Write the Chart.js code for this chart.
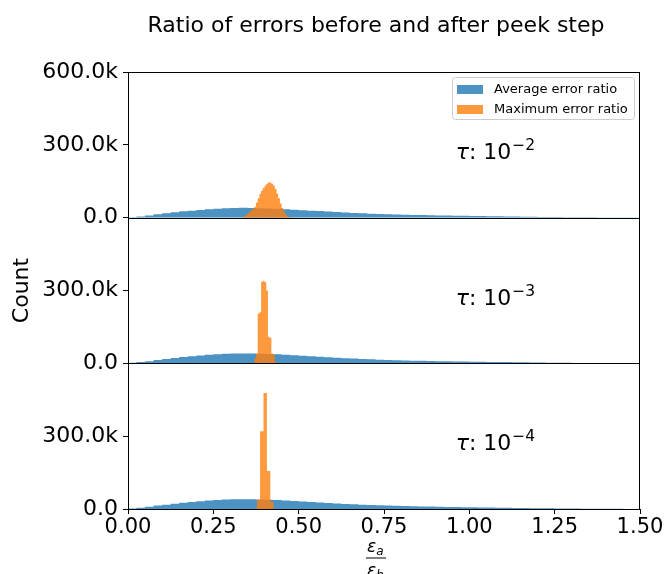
<!DOCTYPE html>
<html>
<head>
<meta charset="utf-8">
<script src="https://cdn.jsdelivr.net/npm/chart.js@4.4.1/dist/chart.umd.min.js"></script>
<style>
  html, body { margin: 0; padding: 0; background: #fff; }
  canvas { display: block; }
</style>
</head>
<body>
<canvas id="myChart" width="667" height="574"></canvas>
<script>
  // average error ratio histogram (same shape in all three panels), bin edges + counts
  const avgEdges = [
    0.000, 0.025, 0.050, 0.075, 0.100, 0.125, 0.150, 0.175, 0.200, 0.225,
    0.250, 0.275, 0.300, 0.325, 0.350, 0.375, 0.400, 0.425, 0.450, 0.475,
    0.500, 0.525, 0.550, 0.575, 0.600, 0.625, 0.650, 0.675, 0.700, 0.725,
    0.750, 0.775, 0.800, 0.825, 0.850, 0.875, 0.900, 0.925, 0.950, 0.975,
    1.000, 1.025, 1.050, 1.075, 1.100, 1.125, 1.150, 1.175, 1.200, 1.225,
    1.250, 1.275, 1.300, 1.325, 1.350, 1.375, 1.400, 1.425, 1.450, 1.475, 1.500
  ];
  const avgCounts = [
    2000, 5000, 9000, 14000, 18000, 22000, 26000, 29000, 32000, 35000,
    37000, 39000, 40000, 40500, 40000, 39000, 38000, 37000, 35000, 33000,
    31000, 29000, 27000, 25000, 23000, 21000, 19500, 18000, 16500, 15000,
    14000, 13000, 12000, 11000, 10500, 10000, 9000, 8500, 8000, 7500,
    7000, 6500, 6000, 5500, 5000, 4500, 4000, 3500, 3000, 2700,
    2400, 2100, 1800, 1500, 1300, 1100, 900, 700, 500, 400
  ];

  // maximum error ratio histograms, one per tau
  const maxEdgesTau2 = [
    0.335, 0.340, 0.345, 0.350, 0.355, 0.360, 0.365, 0.370, 0.375, 0.380,
    0.385, 0.390, 0.395, 0.400, 0.405, 0.410, 0.415, 0.420, 0.425, 0.430,
    0.435, 0.440, 0.445, 0.450, 0.455, 0.460, 0.465, 0.470, 0.475, 0.480
  ];
  const maxCountsTau2 = [
    3000, 7000, 12000, 18000, 25000, 32000, 38000, 45000, 62000, 80000,
    98000, 112000, 122000, 133000, 140000, 145000, 145000, 140000, 132000, 118000,
    100000, 80000, 58000, 40000, 25000, 14000, 7000, 3000, 1000
  ];
  const maxEdgesTau3 = [0.370, 0.375, 0.380, 0.385, 0.390, 0.395, 0.400, 0.405, 0.410, 0.415, 0.420, 0.425, 0.430, 0.435];
  const maxCountsTau3 = [20000, 40000, 205000, 210000, 335000, 340000, 335000, 300000, 110000, 105000, 40000, 35000, 8000];
  const maxEdgesTau4 = [0.377, 0.387, 0.397, 0.407, 0.417, 0.427];
  const maxCountsTau4 = [38000, 320000, 478000, 157000, 30000];

  const xTicks = [0, 0.25, 0.5, 0.75, 1.0, 1.25, 1.5];
  const yTicks = [0, 300000, 600000];
  const tauExponents = ["\u22122", "\u22123", "\u22124"];
  const seriesLabels = ["Average error ratio", "Maximum error ratio"];

  const BLUE = "rgba(31, 119, 180, 0.8)";
  const ORANGE = "rgba(255, 127, 14, 0.8)";
  const FONT = '"DejaVu Sans", sans-serif';

  // top to bottom
  const panelAxes = ["yTop", "yMid", "yBot"];

  function histPoints(edges, counts) {
    return edges.map((e, i) => ({ x: e, y: i < counts.length ? counts[i] : 0 }));
  }

  function hist(edges, counts, color, axis, order) {
    return {
      data: histPoints(edges, counts),
      yAxisID: axis,
      stepped: true,
      fill: "origin",
      backgroundColor: color,
      borderColor: "transparent",
      borderWidth: 0,
      pointRadius: 0,
      order: order,
    };
  }

  function yScale(showTop) {
    return {
      type: "linear",
      position: "left",
      stack: "panels",
      stackWeight: 1,
      min: 0,
      max: 600000,
      afterBuildTicks: (s) => { s.ticks = yTicks.map((v) => ({ value: v })); },
      afterFit: (s) => { s.width = 128; },
      border: { display: false },
      grid: { drawOnChartArea: false, drawTicks: true, tickLength: 5, tickColor: "#000" },
      ticks: {
        padding: 5,
        color: "#000",
        font: { family: FONT, size: 22 },
        callback: (v) => {
          if (v === 0) return "0.0";
          if (v === 600000 && !showTop) return "";
          return (v / 1000).toFixed(1) + "k";
        },
      },
    };
  }

  const overlay = {
    id: "overlay",
    afterDraw(chart) {
      const ctx = chart.ctx;
      const area = chart.chartArea;
      const xs = chart.scales.x;
      const cx = 376;
      ctx.save();

      // panel frames
      ctx.strokeStyle = "#000";
      ctx.lineWidth = 1;
      panelAxes.forEach((id) => {
        const s = chart.scales[id];
        const t = Math.round(s.top), b = Math.round(s.bottom);
        ctx.strokeRect(area.left + 0.5, t + 0.5, Math.round(area.right - area.left) - 1, b - t);
      });

      // tau labels
      ctx.fillStyle = "#000";
      ctx.textAlign = "left";
      ctx.textBaseline = "alphabetic";
      panelAxes.forEach((id, i) => {
        const s = chart.scales[id];
        let px = xs.getPixelForValue(0.96);
        const py = s.getPixelForValue(242000);
        ctx.font = "italic 22px " + FONT;
        ctx.fillText("\u03c4", px, py);
        px += ctx.measureText("\u03c4").width;
        ctx.font = "22px " + FONT;
        ctx.fillText(": 10", px, py);
        px += ctx.measureText(": 10").width;
        ctx.font = "15.5px " + FONT;
        ctx.fillText(tauExponents[i], px + 1, py - 9);
      });

      // legend
      const lx = area.right - 6 - 182, ly = area.top + 5;
      ctx.fillStyle = "rgba(255,255,255,0.8)";
      ctx.strokeStyle = "#cccccc";
      ctx.beginPath();
      ctx.roundRect(lx + 0.5, ly + 0.5, 182, 42, 3);
      ctx.fill();
      ctx.stroke();
      [BLUE, ORANGE].forEach((c, i) => {
        ctx.fillStyle = c;
        ctx.fillRect(lx + 5, ly + 8 + i * 20, 26, 9);
        ctx.fillStyle = "#000";
        ctx.font = "13px " + FONT;
        ctx.textBaseline = "middle";
        ctx.fillText(seriesLabels[i], lx + 42, ly + 13 + i * 20);
      });

      // title
      ctx.textAlign = "center";
      ctx.textBaseline = "alphabetic";
      ctx.font = "22px " + FONT;
      ctx.fillText("Ratio of errors before and after peek step", cx, 32);

      // y label
      ctx.save();
      ctx.translate(22, (area.top + area.bottom) / 2);
      ctx.rotate(-Math.PI / 2);
      ctx.textBaseline = "middle";
      ctx.font = "22px " + FONT;
      ctx.fillText("Count", 0, 0);
      ctx.restore();

      // x label: eps_a / eps_b
      ctx.textAlign = "left";
      ctx.font = "italic 17px " + FONT;
      const ew = ctx.measureText("\u03b5").width;
      ctx.fillText("\u03b5", cx - 9, 552);
      ctx.fillText("\u03b5", cx - 9, 576);
      ctx.font = "italic 12px " + FONT;
      ctx.fillText("a", cx - 9 + ew, 555);
      ctx.fillText("b", cx - 9 + ew, 579);
      ctx.fillRect(cx - 10, 557.5, 20, 1);

      ctx.restore();
    },
  };

  const ctx = document.getElementById("myChart").getContext("2d");
  new Chart(ctx, {
    type: "line",
    data: {
      datasets: [
        hist(avgEdges, avgCounts, BLUE, "yTop", 2),
        hist(maxEdgesTau2, maxCountsTau2, ORANGE, "yTop", 1),
        hist(avgEdges, avgCounts, BLUE, "yMid", 2),
        hist(maxEdgesTau3, maxCountsTau3, ORANGE, "yMid", 1),
        hist(avgEdges, avgCounts, BLUE, "yBot", 2),
        hist(maxEdgesTau4, maxCountsTau4, ORANGE, "yBot", 1),
      ],
    },
    options: {
      responsive: false,
      animation: false,
      events: [],
      layout: { padding: { top: 72, right: 27, bottom: 0, left: 0 } },
      plugins: { legend: { display: false }, title: { display: false }, tooltip: { enabled: false } },
      scales: {
        x: {
          type: "linear",
          min: 0,
          max: 1.5,
          afterBuildTicks: (s) => { s.ticks = xTicks.map((v) => ({ value: v })); },
          afterFit: (s) => { s.height = 65; },
          border: { display: false },
          grid: { drawOnChartArea: false, drawTicks: true, tickLength: 5, tickColor: "#000" },
          ticks: {
            padding: 1,
            color: "#000",
            maxRotation: 0,
            font: { family: FONT, size: 21 },
            callback: (v) => v.toFixed(2),
          },
        },
        // last defined sits on top of the stack
        yBot: yScale(false),
        yMid: yScale(false),
        yTop: yScale(true),
      },
    },
    plugins: [overlay],
  });
</script>
</body>
</html>
